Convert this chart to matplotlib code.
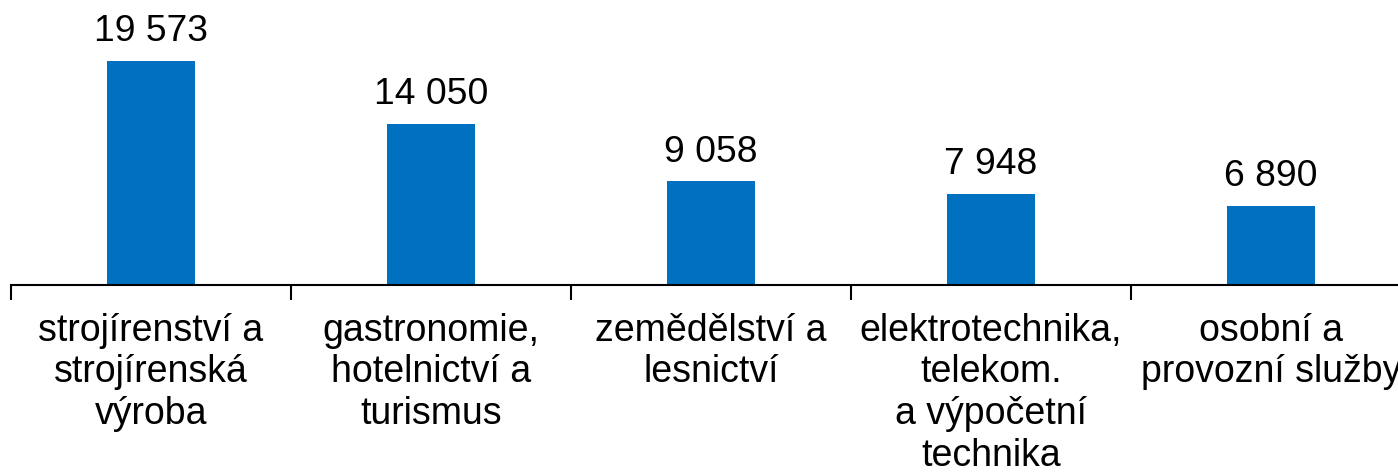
import numpy as np
import matplotlib.pyplot as plt

plt.rcParams["font.family"] = ["Liberation Sans", "DejaVu Sans"]

categories = [
    "strojírenství a\nstrojírenská\nvýroba",
    "gastronomie,\nhotelnictví a\nturismus",
    "zemědělství a\nlesnictví",
    "elektrotechnika,\ntelekom.\na výpočetní\ntechnika",
    "osobní a\nprovozní služby",
]
values = [19573, 14050, 9058, 7948, 6890]
value_labels = ["19 573", "14 050", "9 058", "7 948", "6 890"]

W, H = 1398, 473
fig = plt.figure(figsize=(W / 100, H / 100), dpi=100)
ax = fig.add_axes([11 / W, (H - 285) / H, 1400 / W, 285 / H])

x = np.arange(len(values))
ax.bar(x, values, width=0.315, color="#0070C0")

for xi, v, lab in zip(x, values, value_labels):
    ax.annotate(lab, (xi, v), xytext=(0, 8.5), textcoords="offset points",
                ha="center", va="bottom", fontsize=26.8)

ax.set_xlim(-0.5, len(values) - 0.5)
ax.set_ylim(0, 19573 * 285 / 224)

ax.set_xticks(x)
ax.set_xticklabels(categories, fontsize=27, linespacing=1.2)
ax.tick_params(axis="x", which="major", length=0, pad=20)
ax.set_xticks(np.arange(len(values) + 1) - 0.5, minor=True)
ax.tick_params(axis="x", which="minor", length=11, width=1.5, color="black")

ax.set_yticks([])
for s in ["top", "right", "left"]:
    ax.spines[s].set_visible(False)
ax.spines["bottom"].set_linewidth(1.5)

fig.savefig("out.png", dpi=100)
